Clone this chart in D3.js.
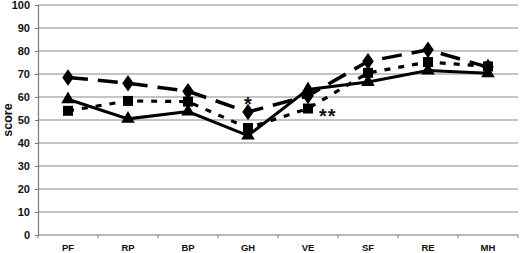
<!DOCTYPE html>
<html>
<head>
<meta charset="utf-8">
<script src="https://cdn.jsdelivr.net/npm/d3@7"></script>
<style>
  body { margin: 0; background: #fff; }
  svg text { font-family: Arial, "Liberation Sans", sans-serif; font-weight: bold; fill: #111; }
</style>
</head>
<body>
<svg width="520" height="253"></svg>
<script>
        // Data
        var categories = ["PF", "RP", "BP", "GH", "VE", "SF", "RE", "MH"];
        var diamondVals = [68.5, 66, 62.5, 53.5, 60.5, 75.5, 80.5, 73];
        var squareVals = [54, 58.3, 58, 46.5, 55, 70.5, 75.2, 73.3];
        var triangleVals = [59, 50.5, 53.7, 43.2, 63.3, 66.5, 71.5, 70.3];
        var yTicks = [0, 10, 20, 30, 40, 50, 60, 70, 80, 90, 100];

        // Chart dimensions
        const margin = {top: 5, right: 2, bottom: 18, left: 38};
        var w = 520 - margin.left - margin.right;
        var h = 253 - margin.top - margin.bottom;

        var svg = d3.select("svg")
                    .append("g")
                    .attr("transform", "translate(" + margin.left + "," + margin.top + ")");

        var xScale = d3.scaleBand()
                        .domain(categories)
                        .range([0, w]);

        var yScale = d3.scaleLinear()
                        .domain([0, 100])
                        .range([230, 0]);

        // Gridlines
        svg.selectAll(".grid")
            .data(yTicks.filter(function(d) { return d > 0; }))
            .enter()
            .append("line")
            .attr("x1", 0)
            .attr("x2", w)
            .attr("y1", function(d) { return yScale(d); })
            .attr("y2", function(d) { return yScale(d); })
            .attr("stroke", "#8a8a8a")
            .attr("stroke-width", 1.2);

        // Y axis
        var yAxis = d3.axisLeft(yScale).tickValues(yTicks).tickSize(3).tickPadding(5);
        var yG = svg.append("g").call(yAxis);
        yG.select(".domain").attr("stroke", "#777").attr("stroke-width", 1.2);
        yG.selectAll(".tick line").attr("stroke", "#777");
        yG.selectAll("text").attr("font-size", "11px").attr("font-family", "Arial, sans-serif")
            .attr("font-weight", "bold").attr("fill", "#111");

        // X axis with ticks at band edges
        var xG = svg.append("g").attr("transform", "translate(0," + yScale(0) + ")");
        xG.append("line").attr("x1", 0).attr("x2", w).attr("stroke", "#777").attr("stroke-width", 1.2);
        xG.selectAll(".xtick")
            .data(categories.concat(["end"]))
            .enter()
            .append("line")
            .attr("x1", function(d, i) { return i * xScale.step(); })
            .attr("x2", function(d, i) { return i * xScale.step(); })
            .attr("y1", 0)
            .attr("y2", 3)
            .attr("stroke", "#777");
        xG.selectAll(".xlab")
            .data(categories)
            .enter()
            .append("text")
            .attr("x", function(d) { return xScale(d) + xScale.bandwidth() / 2; })
            .attr("y", 16)
            .attr("text-anchor", "middle")
            .attr("font-size", "9.5px")
            .text(function(d) { return d; });

        // Y axis label
        svg.append("text")
            .attr("transform", "rotate(-90)")
            .attr("x", -yScale(50))
            .attr("y", -26)
            .attr("text-anchor", "middle")
            .attr("font-size", "12.5px")
            .text("score");

        var cx = function(d, i) { return xScale(categories[i]) + xScale.bandwidth() / 2; };
        var line = d3.line().x(cx).y(function(d) { return yScale(d); });

        // Lines
        svg.append("path").datum(squareVals).attr("d", line)
            .attr("fill", "none").attr("stroke", "#000").attr("stroke-width", 3.2)
            .attr("stroke-dasharray", "6,8");
        svg.append("path").datum(diamondVals).attr("d", line)
            .attr("fill", "none").attr("stroke", "#000").attr("stroke-width", 3.5)
            .attr("stroke-dasharray", "20,10");
        svg.append("path").datum(triangleVals).attr("d", line)
            .attr("fill", "none").attr("stroke", "#000").attr("stroke-width", 3);

        // Markers
        svg.selectAll(".sq").data(squareVals).enter().append("path")
            .attr("d", d3.symbol().type(d3.symbolSquare).size(100))
            .attr("transform", function(d, i) { return "translate(" + cx(d, i) + "," + yScale(d) + ")"; })
            .attr("fill", "#000");
        svg.selectAll(".tri").data(triangleVals).enter().append("path")
            .attr("d", d3.symbol().type(d3.symbolTriangle).size(80))
            .attr("transform", function(d, i) { return "translate(" + cx(d, i) + "," + yScale(d) + ")"; })
            .attr("fill", "#000");
        svg.selectAll(".dia").data(diamondVals).enter().append("path")
            .attr("d", d3.symbol().type(d3.symbolDiamond).size(80))
            .attr("transform", function(d, i) { return "translate(" + cx(d, i) + "," + yScale(d) + ") scale(1.2,1)"; })
            .attr("fill", "#000");

        // Significance markers
        svg.append("text")
            .attr("x", cx(0, 3))
            .attr("y", yScale(diamondVals[3]) - 1)
            .attr("text-anchor", "middle")
            .attr("font-size", "20px")
            .text("*");
        svg.append("text")
            .attr("x", cx(0, 4) + 11)
            .attr("y", yScale(squareVals[4]) + 14)
            .attr("text-anchor", "start")
            .attr("font-size", "20px")
            .attr("letter-spacing", "1px")
            .text("**");
</script>
</body>
</html>
